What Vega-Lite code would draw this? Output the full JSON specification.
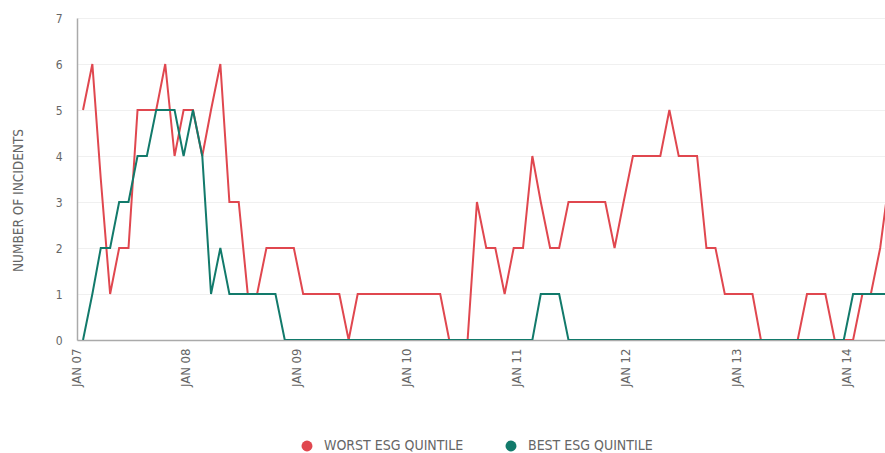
{
  "$schema": "https://vega.github.io/schema/vega-lite/v6.json",
  "width": 808,
  "height": 322,
  "autosize": {"type": "none"},
  "padding": {"left": 77, "top": 18, "right": 0, "bottom": 113},
  "background": "white",
  "config": {
    "font": "Liberation Sans Narrow, DejaVu Sans Condensed, sans-serif",
    "view": {"stroke": null}
  },
  "data": {
    "values": [
      {"date": "2007/01/01", "WORST ESG QUINTILE": 5, "BEST ESG QUINTILE": 0},
      {"date": "2007/02/01", "WORST ESG QUINTILE": 6, "BEST ESG QUINTILE": 1},
      {"date": "2007/03/01", "WORST ESG QUINTILE": 3.5, "BEST ESG QUINTILE": 2},
      {"date": "2007/04/01", "WORST ESG QUINTILE": 1, "BEST ESG QUINTILE": 2},
      {"date": "2007/05/01", "WORST ESG QUINTILE": 2, "BEST ESG QUINTILE": 3},
      {"date": "2007/06/01", "WORST ESG QUINTILE": 2, "BEST ESG QUINTILE": 3},
      {"date": "2007/07/01", "WORST ESG QUINTILE": 5, "BEST ESG QUINTILE": 4},
      {"date": "2007/08/01", "WORST ESG QUINTILE": 5, "BEST ESG QUINTILE": 4},
      {"date": "2007/09/01", "WORST ESG QUINTILE": 5, "BEST ESG QUINTILE": 5},
      {"date": "2007/10/01", "WORST ESG QUINTILE": 6, "BEST ESG QUINTILE": 5},
      {"date": "2007/11/01", "WORST ESG QUINTILE": 4, "BEST ESG QUINTILE": 5},
      {"date": "2007/12/01", "WORST ESG QUINTILE": 5, "BEST ESG QUINTILE": 4},
      {"date": "2008/01/01", "WORST ESG QUINTILE": 5, "BEST ESG QUINTILE": 5},
      {"date": "2008/02/01", "WORST ESG QUINTILE": 4, "BEST ESG QUINTILE": 4},
      {"date": "2008/03/01", "WORST ESG QUINTILE": 5, "BEST ESG QUINTILE": 1},
      {"date": "2008/04/01", "WORST ESG QUINTILE": 6, "BEST ESG QUINTILE": 2},
      {"date": "2008/05/01", "WORST ESG QUINTILE": 3, "BEST ESG QUINTILE": 1},
      {"date": "2008/06/01", "WORST ESG QUINTILE": 3, "BEST ESG QUINTILE": 1},
      {"date": "2008/07/01", "WORST ESG QUINTILE": 1, "BEST ESG QUINTILE": 1},
      {"date": "2008/08/01", "WORST ESG QUINTILE": 1, "BEST ESG QUINTILE": 1},
      {"date": "2008/09/01", "WORST ESG QUINTILE": 2, "BEST ESG QUINTILE": 1},
      {"date": "2008/10/01", "WORST ESG QUINTILE": 2, "BEST ESG QUINTILE": 1},
      {"date": "2008/11/01", "WORST ESG QUINTILE": 2, "BEST ESG QUINTILE": 0},
      {"date": "2008/12/01", "WORST ESG QUINTILE": 2, "BEST ESG QUINTILE": 0},
      {"date": "2009/01/01", "WORST ESG QUINTILE": 1, "BEST ESG QUINTILE": 0},
      {"date": "2009/02/01", "WORST ESG QUINTILE": 1, "BEST ESG QUINTILE": 0},
      {"date": "2009/03/01", "WORST ESG QUINTILE": 1, "BEST ESG QUINTILE": 0},
      {"date": "2009/04/01", "WORST ESG QUINTILE": 1, "BEST ESG QUINTILE": 0},
      {"date": "2009/05/01", "WORST ESG QUINTILE": 1, "BEST ESG QUINTILE": 0},
      {"date": "2009/06/01", "WORST ESG QUINTILE": 0, "BEST ESG QUINTILE": 0},
      {"date": "2009/07/01", "WORST ESG QUINTILE": 1, "BEST ESG QUINTILE": 0},
      {"date": "2009/08/01", "WORST ESG QUINTILE": 1, "BEST ESG QUINTILE": 0},
      {"date": "2009/09/01", "WORST ESG QUINTILE": 1, "BEST ESG QUINTILE": 0},
      {"date": "2009/10/01", "WORST ESG QUINTILE": 1, "BEST ESG QUINTILE": 0},
      {"date": "2009/11/01", "WORST ESG QUINTILE": 1, "BEST ESG QUINTILE": 0},
      {"date": "2009/12/01", "WORST ESG QUINTILE": 1, "BEST ESG QUINTILE": 0},
      {"date": "2010/01/01", "WORST ESG QUINTILE": 1, "BEST ESG QUINTILE": 0},
      {"date": "2010/02/01", "WORST ESG QUINTILE": 1, "BEST ESG QUINTILE": 0},
      {"date": "2010/03/01", "WORST ESG QUINTILE": 1, "BEST ESG QUINTILE": 0},
      {"date": "2010/04/01", "WORST ESG QUINTILE": 1, "BEST ESG QUINTILE": 0},
      {"date": "2010/05/01", "WORST ESG QUINTILE": 0, "BEST ESG QUINTILE": 0},
      {"date": "2010/06/01", "WORST ESG QUINTILE": 0, "BEST ESG QUINTILE": 0},
      {"date": "2010/07/01", "WORST ESG QUINTILE": 0, "BEST ESG QUINTILE": 0},
      {"date": "2010/08/01", "WORST ESG QUINTILE": 3, "BEST ESG QUINTILE": 0},
      {"date": "2010/09/01", "WORST ESG QUINTILE": 2, "BEST ESG QUINTILE": 0},
      {"date": "2010/10/01", "WORST ESG QUINTILE": 2, "BEST ESG QUINTILE": 0},
      {"date": "2010/11/01", "WORST ESG QUINTILE": 1, "BEST ESG QUINTILE": 0},
      {"date": "2010/12/01", "WORST ESG QUINTILE": 2, "BEST ESG QUINTILE": 0},
      {"date": "2011/01/01", "WORST ESG QUINTILE": 2, "BEST ESG QUINTILE": 0},
      {"date": "2011/02/01", "WORST ESG QUINTILE": 4, "BEST ESG QUINTILE": 0},
      {"date": "2011/03/01", "WORST ESG QUINTILE": 3, "BEST ESG QUINTILE": 1},
      {"date": "2011/04/01", "WORST ESG QUINTILE": 2, "BEST ESG QUINTILE": 1},
      {"date": "2011/05/01", "WORST ESG QUINTILE": 2, "BEST ESG QUINTILE": 1},
      {"date": "2011/06/01", "WORST ESG QUINTILE": 3, "BEST ESG QUINTILE": 0},
      {"date": "2011/07/01", "WORST ESG QUINTILE": 3, "BEST ESG QUINTILE": 0},
      {"date": "2011/08/01", "WORST ESG QUINTILE": 3, "BEST ESG QUINTILE": 0},
      {"date": "2011/09/01", "WORST ESG QUINTILE": 3, "BEST ESG QUINTILE": 0},
      {"date": "2011/10/01", "WORST ESG QUINTILE": 3, "BEST ESG QUINTILE": 0},
      {"date": "2011/11/01", "WORST ESG QUINTILE": 2, "BEST ESG QUINTILE": 0},
      {"date": "2011/12/01", "WORST ESG QUINTILE": 3, "BEST ESG QUINTILE": 0},
      {"date": "2012/01/01", "WORST ESG QUINTILE": 4, "BEST ESG QUINTILE": 0},
      {"date": "2012/02/01", "WORST ESG QUINTILE": 4, "BEST ESG QUINTILE": 0},
      {"date": "2012/03/01", "WORST ESG QUINTILE": 4, "BEST ESG QUINTILE": 0},
      {"date": "2012/04/01", "WORST ESG QUINTILE": 4, "BEST ESG QUINTILE": 0},
      {"date": "2012/05/01", "WORST ESG QUINTILE": 5, "BEST ESG QUINTILE": 0},
      {"date": "2012/06/01", "WORST ESG QUINTILE": 4, "BEST ESG QUINTILE": 0},
      {"date": "2012/07/01", "WORST ESG QUINTILE": 4, "BEST ESG QUINTILE": 0},
      {"date": "2012/08/01", "WORST ESG QUINTILE": 4, "BEST ESG QUINTILE": 0},
      {"date": "2012/09/01", "WORST ESG QUINTILE": 2, "BEST ESG QUINTILE": 0},
      {"date": "2012/10/01", "WORST ESG QUINTILE": 2, "BEST ESG QUINTILE": 0},
      {"date": "2012/11/01", "WORST ESG QUINTILE": 1, "BEST ESG QUINTILE": 0},
      {"date": "2012/12/01", "WORST ESG QUINTILE": 1, "BEST ESG QUINTILE": 0},
      {"date": "2013/01/01", "WORST ESG QUINTILE": 1, "BEST ESG QUINTILE": 0},
      {"date": "2013/02/01", "WORST ESG QUINTILE": 1, "BEST ESG QUINTILE": 0},
      {"date": "2013/03/01", "WORST ESG QUINTILE": 0, "BEST ESG QUINTILE": 0},
      {"date": "2013/04/01", "WORST ESG QUINTILE": 0, "BEST ESG QUINTILE": 0},
      {"date": "2013/05/01", "WORST ESG QUINTILE": 0, "BEST ESG QUINTILE": 0},
      {"date": "2013/06/01", "WORST ESG QUINTILE": 0, "BEST ESG QUINTILE": 0},
      {"date": "2013/07/01", "WORST ESG QUINTILE": 0, "BEST ESG QUINTILE": 0},
      {"date": "2013/08/01", "WORST ESG QUINTILE": 1, "BEST ESG QUINTILE": 0},
      {"date": "2013/09/01", "WORST ESG QUINTILE": 1, "BEST ESG QUINTILE": 0},
      {"date": "2013/10/01", "WORST ESG QUINTILE": 1, "BEST ESG QUINTILE": 0},
      {"date": "2013/11/01", "WORST ESG QUINTILE": 0, "BEST ESG QUINTILE": 0},
      {"date": "2013/12/01", "WORST ESG QUINTILE": 0, "BEST ESG QUINTILE": 0},
      {"date": "2014/01/01", "WORST ESG QUINTILE": 0, "BEST ESG QUINTILE": 1},
      {"date": "2014/02/01", "WORST ESG QUINTILE": 1, "BEST ESG QUINTILE": 1},
      {"date": "2014/03/01", "WORST ESG QUINTILE": 1, "BEST ESG QUINTILE": 1},
      {"date": "2014/04/01", "WORST ESG QUINTILE": 2, "BEST ESG QUINTILE": 1},
      {"date": "2014/05/01", "WORST ESG QUINTILE": 3.5, "BEST ESG QUINTILE": 1}
    ]
  },
  "transform": [
    {"fold": ["WORST ESG QUINTILE", "BEST ESG QUINTILE"], "as": ["series", "value"]}
  ],
  "mark": {"type": "line", "strokeWidth": 2, "clip": true},
  "encoding": {
    "x": {
      "field": "date",
      "type": "temporal",
      "scale": {"domain": [{"year": 2006, "month": 12, "date": 12}, {"year": 2014, "month": 4, "date": 17}]},
      "axis": {
        "title": null,
        "grid": false,
        "ticks": false,
        "domainColor": "#aaaaaa",
        "domainWidth": 1.5,
        "labelAngle": -90,
        "labelBaseline": "bottom",
        "labelColor": "#666666",
        "labelFontSize": 13,
        "labelPadding": 8,
        "values": [
          {"year": 2007, "month": 1, "date": 1},
          {"year": 2008, "month": 1, "date": 1},
          {"year": 2009, "month": 1, "date": 1},
          {"year": 2010, "month": 1, "date": 1},
          {"year": 2011, "month": 1, "date": 1},
          {"year": 2012, "month": 1, "date": 1},
          {"year": 2013, "month": 1, "date": 1},
          {"year": 2014, "month": 1, "date": 1}
        ],
        "labelExpr": "upper(timeFormat(datum.value, '%b %y'))"
      }
    },
    "y": {
      "field": "value",
      "type": "quantitative",
      "scale": {"domain": [0, 7], "nice": false},
      "axis": {
        "title": "NUMBER OF INCIDENTS",
        "titleColor": "#666666",
        "titleFontSize": 13.5,
        "titleFontWeight": "normal",
        "titleX": -59,
        "titleY": 182,
        "titleBaseline": "middle",
        "titleAngle": -90,
        "values": [0, 1, 2, 3, 4, 5, 6, 7],
        "ticks": false,
        "labelColor": "#666666",
        "labelFontSize": 12,
        "labelPadding": 15,
        "domainColor": "#aaaaaa",
        "domainWidth": 1.5,
        "gridColor": "#f0f0f0"
      }
    },
    "color": {
      "field": "series",
      "type": "nominal",
      "scale": {"domain": ["WORST ESG QUINTILE", "BEST ESG QUINTILE"], "range": ["#e0474f", "#127a6b"]},
      "legend": {
        "title": null,
        "orient": "none",
        "direction": "horizontal",
        "legendX": 223,
        "legendY": 421,
        "symbolType": "circle",
        "symbolSize": 120,
        "symbolStrokeWidth": 0,
        "labelFontSize": 14,
        "labelColor": "#666666",
        "labelOffset": 10,
        "columnPadding": 40,
        "encode": {"symbols": {"update": {"fill": {"scale": "color", "field": "value"}, "fillOpacity": {"value": 1}}}}
      }
    }
  }
}
